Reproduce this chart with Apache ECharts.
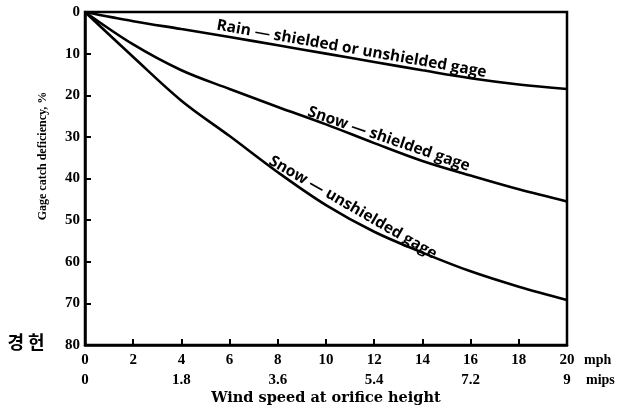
<!DOCTYPE html>
<html><head><meta charset="utf-8">
<script src="https://cdn.jsdelivr.net/npm/echarts@6/dist/echarts.min.js"></script>
<style>html,body{margin:0;padding:0;background:#fff}#c{width:621px;height:411px}</style>
</head><body><div id="c"></div>
<script>
// ---- data ----
const mph = [0, 2, 4, 6, 8, 10, 12, 14, 16, 18, 20];
const rain = [0, 2.2, 4.1, 6.0, 8.0, 10.0, 12.0, 14.0, 15.9, 17.4, 18.5];
const snowShielded = [0, 7.8, 14.0, 18.5, 22.8, 27.0, 31.5, 35.8, 39.3, 42.6, 45.5];
const snowUnshielded = [0, 10.8, 21.3, 29.8, 38.5, 46.4, 52.8, 57.8, 62.3, 66.0, 69.2];
const mipsLabels = { 0: '0', 4: '1.8', 8: '3.6', 12: '5.4', 16: '7.2', 20: '9' };
const curveLabels = ['Rain — shielded or unshielded gage', 'Snow — shielded gage', 'Snow — unshielded gage'];
const xUnit = 'mph', x2Unit = 'mips';
const xTitle = 'Wind speed at orifice height';
const yTitle = 'Gage catch deficiency, %';
const sideNote = '경 헌';

// annotation anchors (data coords on each curve) and angles
const labelAnchor = [[11.0, 11.0], [12.5, 32.6], [10.95, 48.9]];
const labelAngle = [10, 19, 30];

const serif = '"Liberation Serif", "DejaVu Serif", serif';
const chart = echarts.init(document.getElementById('c'), null, { renderer: 'canvas' });
const mk = arr => mph.map((x, i) => [x, arr[i]]);
const lineSeries = arr => ({
  type: 'line', data: mk(arr), smooth: 0.35, symbol: 'none',
  lineStyle: { color: '#000', width: 2.6 }, silent: true, animation: false
});

chart.setOption({
  backgroundColor: '#fff',
  animation: false,
  grid: { left: 85, right: 54, top: 12, bottom: 66, show: true, borderColor: '#000', borderWidth: 2.5, backgroundColor: 'transparent' },
  xAxis: {
    type: 'value', min: 0, max: 20, interval: 2, position: 'bottom',
    axisLine: { show: true, onZero: false, lineStyle: { color: '#000', width: 2.5 } },
    axisTick: { show: true, inside: true, length: 6, lineStyle: { color: '#000', width: 2 } },
    splitLine: { show: false },
    axisLabel: {
      color: '#000', fontFamily: serif, fontWeight: 'bold', fontSize: 15, margin: 5, lineHeight: 20,
      formatter: v => v + '\n' + (mipsLabels[v] !== undefined ? mipsLabels[v] : ' ')
    }
  },
  yAxis: {
    type: 'value', min: 0, max: 80, interval: 10, inverse: true,
    axisLine: { show: true, onZero: false, lineStyle: { color: '#000', width: 2.5 } },
    axisTick: { show: true, inside: true, length: 6, lineStyle: { color: '#000', width: 2 } },
    splitLine: { show: false },
    axisLabel: { color: '#000', fontFamily: serif, fontWeight: 'bold', fontSize: 15, margin: 5 }
  },
  series: [lineSeries(rain), lineSeries(snowShielded), lineSeries(snowUnshielded)]
});

const pr = p => chart.convertToPixel({ gridIndex: 0 }, p);
const end = pr([20, 80]);
const elements = [];
curveLabels.forEach((t, i) => {
  const p = pr(labelAnchor[i]);
  elements.push({
    type: 'text', x: p[0], y: p[1] - 1, rotation: -labelAngle[i] * Math.PI / 180, silent: true,
    style: { text: t, fill: '#000', font: 'bold 15.5px "Open Sans", sans-serif', textAlign: 'center', textVerticalAlign: 'bottom' }
  });
});
elements.push(
  { type: 'text', x: end[0] + 17, y: end[1] + 15, silent: true,
    style: { text: xUnit, fill: '#000', font: 'bold 14px ' + serif, textAlign: 'left', textVerticalAlign: 'middle' } },
  { type: 'text', x: end[0] + 19, y: end[1] + 35, silent: true,
    style: { text: x2Unit, fill: '#000', font: 'bold 14px ' + serif, textAlign: 'left', textVerticalAlign: 'middle' } },
  { type: 'text', x: 326, y: 398, silent: true,
    style: { text: xTitle, fill: '#000', font: 'bold 14.5px "DejaVu Serif", serif', textAlign: 'center', textVerticalAlign: 'middle' } },
  { type: 'text', x: 43, y: 156, rotation: Math.PI / 2, silent: true,
    style: { text: yTitle, fill: '#000', font: 'bold 12px ' + serif, textAlign: 'center', textVerticalAlign: 'middle' } },
  { type: 'text', x: 26, y: 342, silent: true,
    style: { text: sideNote, fill: '#000', font: 'bold 18px "Noto Sans CJK KR", sans-serif', textAlign: 'center', textVerticalAlign: 'middle' } }
);
chart.setOption({ graphic: { elements } });
</script>
</body></html>
